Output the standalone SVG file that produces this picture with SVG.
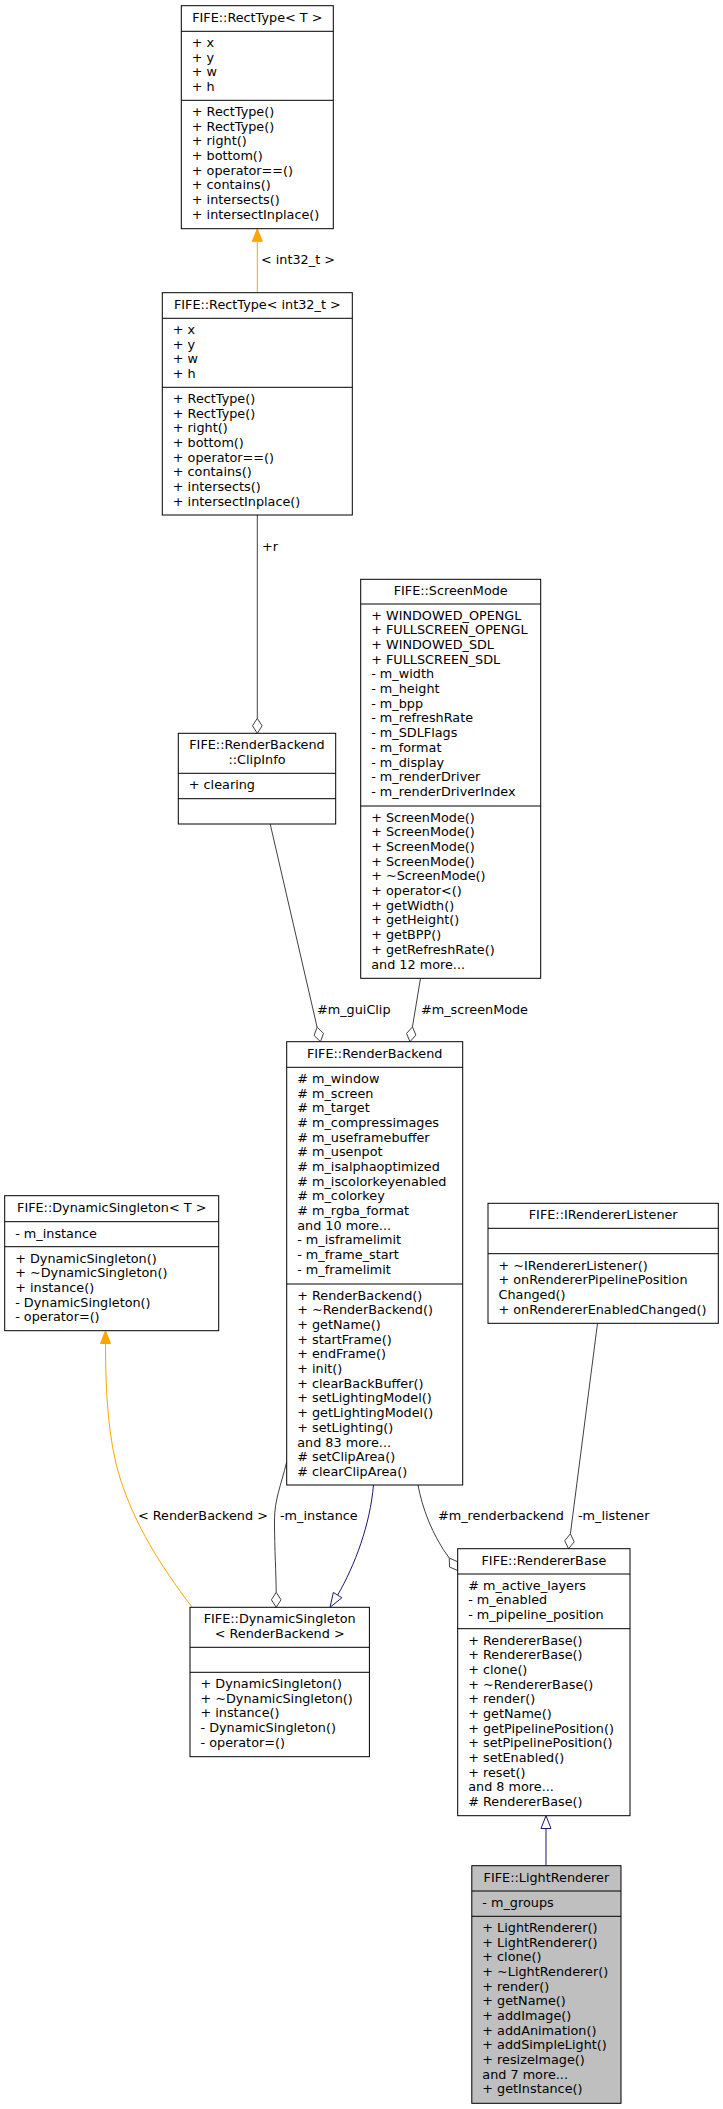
<svg xmlns="http://www.w3.org/2000/svg" width="723" height="2109" viewBox="0 0 723 2109">
<defs>
<style>
text{font-family:"DejaVu Sans","Liberation Sans",sans-serif;font-size:12.8px;fill:#000}
.c{text-anchor:middle}
.node rect{fill:#fff;stroke:#000;stroke-width:1}
.node line{stroke:#000;stroke-width:1}
#n10 rect{fill:#bfbfbf}
.use{fill:none;stroke:#404040;stroke-width:1}
.dia{fill:#fff;stroke:#404040;stroke-width:1}
.tpl{fill:none;stroke:#ffa500;stroke-width:1}
.tplh{fill:#ffa500;stroke:#ffa500;stroke-width:1}
.inh{fill:none;stroke:#191970;stroke-width:1}
.inhh{fill:#fff;stroke:#191970;stroke-width:1}
</style>
</defs>
<rect width="723" height="2109" fill="#fff"/>

<g id="connectors">
<!-- RectType<int32_t> -> RectType<T> -->
<line class="tpl" x1="257.3" y1="292.7" x2="257.3" y2="241"/>
<polygon class="tplh" points="257.3,228.7 252.3,241.3 262.3,241.3"/>
<text x="261" y="263.5">&lt; int32_t &gt;</text>
<!-- +r -->
<line class="use" x1="257.3" y1="515" x2="257.3" y2="718.3"/>
<polygon class="dia" points="257.3,718.3 252.5,725.8 257.3,733.3 262.1,725.8"/>
<text x="262" y="551">+r</text>
<!-- #m_guiClip -->
<line class="use" x1="270.2" y1="824" x2="317.1" y2="1027.1"/>
<polygon class="dia" points="317.1,1027.1 323.5,1033.3 320.5,1041.7 314.1,1035.5"/>
<text x="317" y="1013.5">#m_guiClip</text>
<!-- #m_screenMode -->
<line class="use" x1="420.5" y1="978.3" x2="412.45" y2="1026.9"/>
<polygon class="dia" points="412.45,1026.9 415.9,1035.1 410,1041.7 406.5,1033.5"/>
<text x="421" y="1013.5">#m_screenMode</text>
<!-- -m_instance -->
<path class="use" d="M286.7,1462 C281,1485 274.5,1500 274.5,1520 C274.5,1550 276.2,1575 276.2,1592.3"/>
<polygon class="dia" points="276.2,1592.3 281,1599.8 276.2,1607.3 271.4,1599.8"/>
<text x="280" y="1520">-m_instance</text>
<!-- RenderBackend inherits DynamicSingleton<RenderBackend> -->
<path class="inh" d="M373.5,1485 C370,1525 355,1565 337.6,1595.1"/>
<polygon class="inhh" points="330,1607.3 341.85,1597.75 333.35,1592.45"/>
<!-- #m_renderbackend -->
<path class="use" d="M418,1485 C422,1507 432,1535 449.25,1558.1"/>
<polygon class="dia" points="449.25,1558.1 457.4,1561.6 457.7,1570.5 449.5,1567"/>
<text x="438" y="1520">#m_renderbackend</text>
<!-- -m_listener -->
<line class="use" x1="597.5" y1="1323.3" x2="570.4" y2="1533.8"/>
<polygon class="dia" points="570.4,1533.8 574.2,1541.9 568.5,1548.7 564.7,1540.7"/>
<text x="578" y="1520">-m_listener</text>
<!-- DynamicSingleton<RenderBackend> -> DynamicSingleton<T> -->
<path class="tpl" d="M191.7,1606.7 C160,1565 135,1525 120,1478 C108,1440 105.5,1390 105.5,1344"/>
<polygon class="tplh" points="105.5,1330.7 100.5,1343.5 110.5,1343.5"/>
<text x="138" y="1520">&lt; RenderBackend &gt;</text>
<!-- LightRenderer inherits RendererBase -->
<line class="inh" x1="546" y1="1865.7" x2="546" y2="1828.5"/>
<polygon class="inhh" points="546,1815.7 541,1828.5 551,1828.5"/>
</g>

<g id="n1" class="node">
<rect x="181.3" y="5.7" width="152" height="223"/>
<line x1="181.3" y1="31.3" x2="333.3" y2="31.3"/>
<line x1="181.3" y1="100.3" x2="333.3" y2="100.3"/>
<text class="c" x="257.3" y="21.5">FIFE::RectType&lt; T &gt;</text>
<text x="191.8" y="47.1"><tspan x="191.8">+ x</tspan><tspan x="191.8" dy="14.67">+ y</tspan><tspan x="191.8" dy="14.67">+ w</tspan><tspan x="191.8" dy="14.67">+ h</tspan></text>
<text x="191.8" y="116.1"><tspan x="191.8">+ RectType()</tspan><tspan x="191.8" dy="14.67">+ RectType()</tspan><tspan x="191.8" dy="14.67">+ right()</tspan><tspan x="191.8" dy="14.67">+ bottom()</tspan><tspan x="191.8" dy="14.67">+ operator==()</tspan><tspan x="191.8" dy="14.67">+ contains()</tspan><tspan x="191.8" dy="14.67">+ intersects()</tspan><tspan x="191.8" dy="14.67">+ intersectInplace()</tspan></text>
</g>

<g id="n2" class="node">
<rect x="162.3" y="292.7" width="190" height="222.3"/>
<line x1="162.3" y1="318.3" x2="352.3" y2="318.3"/>
<line x1="162.3" y1="387.3" x2="352.3" y2="387.3"/>
<text class="c" x="257.3" y="308.5">FIFE::RectType&lt; int32_t &gt;</text>
<text x="172.8" y="334.1"><tspan x="172.8">+ x</tspan><tspan x="172.8" dy="14.67">+ y</tspan><tspan x="172.8" dy="14.67">+ w</tspan><tspan x="172.8" dy="14.67">+ h</tspan></text>
<text x="172.8" y="403.1"><tspan x="172.8">+ RectType()</tspan><tspan x="172.8" dy="14.67">+ RectType()</tspan><tspan x="172.8" dy="14.67">+ right()</tspan><tspan x="172.8" dy="14.67">+ bottom()</tspan><tspan x="172.8" dy="14.67">+ operator==()</tspan><tspan x="172.8" dy="14.67">+ contains()</tspan><tspan x="172.8" dy="14.67">+ intersects()</tspan><tspan x="172.8" dy="14.67">+ intersectInplace()</tspan></text>
</g>

<g id="n3" class="node">
<rect x="178.3" y="733.3" width="157.4" height="90.7"/>
<line x1="178.3" y1="773.3" x2="335.7" y2="773.3"/>
<line x1="178.3" y1="798.7" x2="335.7" y2="798.7"/>
<text class="c" x="257" y="749.1"><tspan x="257">FIFE::RenderBackend</tspan><tspan x="257" dy="14.67">::ClipInfo</tspan></text>
<text x="188.8" y="789.1">+ clearing</text>
</g>

<g id="n4" class="node">
<rect x="360.7" y="579.3" width="180" height="399"/>
<line x1="360.7" y1="604" x2="540.7" y2="604"/>
<line x1="360.7" y1="806" x2="540.7" y2="806"/>
<text class="c" x="450.7" y="595.1">FIFE::ScreenMode</text>
<text x="371.2" y="619.8"><tspan x="371.2">+ WINDOWED_OPENGL</tspan><tspan x="371.2" dy="14.67">+ FULLSCREEN_OPENGL</tspan><tspan x="371.2" dy="14.67">+ WINDOWED_SDL</tspan><tspan x="371.2" dy="14.67">+ FULLSCREEN_SDL</tspan><tspan x="371.2" dy="14.67">- m_width</tspan><tspan x="371.2" dy="14.67">- m_height</tspan><tspan x="371.2" dy="14.67">- m_bpp</tspan><tspan x="371.2" dy="14.67">- m_refreshRate</tspan><tspan x="371.2" dy="14.67">- m_SDLFlags</tspan><tspan x="371.2" dy="14.67">- m_format</tspan><tspan x="371.2" dy="14.67">- m_display</tspan><tspan x="371.2" dy="14.67">- m_renderDriver</tspan><tspan x="371.2" dy="14.67">- m_renderDriverIndex</tspan></text>
<text x="371.2" y="821.8"><tspan x="371.2">+ ScreenMode()</tspan><tspan x="371.2" dy="14.67">+ ScreenMode()</tspan><tspan x="371.2" dy="14.67">+ ScreenMode()</tspan><tspan x="371.2" dy="14.67">+ ScreenMode()</tspan><tspan x="371.2" dy="14.67">+ ~ScreenMode()</tspan><tspan x="371.2" dy="14.67">+ operator&lt;()</tspan><tspan x="371.2" dy="14.67">+ getWidth()</tspan><tspan x="371.2" dy="14.67">+ getHeight()</tspan><tspan x="371.2" dy="14.67">+ getBPP()</tspan><tspan x="371.2" dy="14.67">+ getRefreshRate()</tspan><tspan x="371.2" dy="14.67">and 12 more...</tspan></text>
</g>

<g id="n5" class="node">
<rect x="286.7" y="1041.7" width="176" height="443.3"/>
<line x1="286.7" y1="1067.3" x2="462.7" y2="1067.3"/>
<line x1="286.7" y1="1284" x2="462.7" y2="1284"/>
<text class="c" x="374.7" y="1057.5">FIFE::RenderBackend</text>
<text x="297.2" y="1083.1"><tspan x="297.2"># m_window</tspan><tspan x="297.2" dy="14.67"># m_screen</tspan><tspan x="297.2" dy="14.67"># m_target</tspan><tspan x="297.2" dy="14.67"># m_compressimages</tspan><tspan x="297.2" dy="14.67"># m_useframebuffer</tspan><tspan x="297.2" dy="14.67"># m_usenpot</tspan><tspan x="297.2" dy="14.67"># m_isalphaoptimized</tspan><tspan x="297.2" dy="14.67"># m_iscolorkeyenabled</tspan><tspan x="297.2" dy="14.67"># m_colorkey</tspan><tspan x="297.2" dy="14.67"># m_rgba_format</tspan><tspan x="297.2" dy="14.67">and 10 more...</tspan><tspan x="297.2" dy="14.67">- m_isframelimit</tspan><tspan x="297.2" dy="14.67">- m_frame_start</tspan><tspan x="297.2" dy="14.67">- m_framelimit</tspan></text>
<text x="297.2" y="1299.8"><tspan x="297.2">+ RenderBackend()</tspan><tspan x="297.2" dy="14.67">+ ~RenderBackend()</tspan><tspan x="297.2" dy="14.67">+ getName()</tspan><tspan x="297.2" dy="14.67">+ startFrame()</tspan><tspan x="297.2" dy="14.67">+ endFrame()</tspan><tspan x="297.2" dy="14.67">+ init()</tspan><tspan x="297.2" dy="14.67">+ clearBackBuffer()</tspan><tspan x="297.2" dy="14.67">+ setLightingModel()</tspan><tspan x="297.2" dy="14.67">+ getLightingModel()</tspan><tspan x="297.2" dy="14.67">+ setLighting()</tspan><tspan x="297.2" dy="14.67">and 83 more...</tspan><tspan x="297.2" dy="14.67"># setClipArea()</tspan><tspan x="297.2" dy="14.67"># clearClipArea()</tspan></text>
</g>

<g id="n6" class="node">
<rect x="4.7" y="1195.7" width="214" height="135"/>
<line x1="4.7" y1="1221.7" x2="218.7" y2="1221.7"/>
<line x1="4.7" y1="1246.7" x2="218.7" y2="1246.7"/>
<text class="c" x="111.7" y="1211.5">FIFE::DynamicSingleton&lt; T &gt;</text>
<text x="15.2" y="1237.5">- m_instance</text>
<text x="15.2" y="1262.5"><tspan x="15.2">+ DynamicSingleton()</tspan><tspan x="15.2" dy="14.67">+ ~DynamicSingleton()</tspan><tspan x="15.2" dy="14.67">+ instance()</tspan><tspan x="15.2" dy="14.67">- DynamicSingleton()</tspan><tspan x="15.2" dy="14.67">- operator=()</tspan></text>
</g>

<g id="n7" class="node">
<rect x="488" y="1203.3" width="230.3" height="120"/>
<line x1="488" y1="1228.3" x2="718.3" y2="1228.3"/>
<line x1="488" y1="1253.7" x2="718.3" y2="1253.7"/>
<text class="c" x="603.2" y="1219.1">FIFE::IRendererListener</text>
<text x="498.5" y="1269.5"><tspan x="498.5">+ ~IRendererListener()</tspan><tspan x="498.5" dy="14.67">+ onRendererPipelinePosition</tspan><tspan x="498.5" dy="14.67">Changed()</tspan><tspan x="498.5" dy="14.67">+ onRendererEnabledChanged()</tspan></text>
</g>

<g id="n8" class="node">
<rect x="190" y="1607.3" width="179.4" height="149.4"/>
<line x1="190" y1="1647.3" x2="369.4" y2="1647.3"/>
<line x1="190" y1="1672.3" x2="369.4" y2="1672.3"/>
<text class="c" x="279.7" y="1623.1"><tspan x="279.7">FIFE::DynamicSingleton</tspan><tspan x="279.7" dy="14.67">&lt; RenderBackend &gt;</tspan></text>
<text x="200.5" y="1688.1"><tspan x="200.5">+ DynamicSingleton()</tspan><tspan x="200.5" dy="14.67">+ ~DynamicSingleton()</tspan><tspan x="200.5" dy="14.67">+ instance()</tspan><tspan x="200.5" dy="14.67">- DynamicSingleton()</tspan><tspan x="200.5" dy="14.67">- operator=()</tspan></text>
</g>

<g id="n9" class="node">
<rect x="457.7" y="1548.7" width="172.3" height="267"/>
<line x1="457.7" y1="1574" x2="630" y2="1574"/>
<line x1="457.7" y1="1628.7" x2="630" y2="1628.7"/>
<text class="c" x="543.9" y="1564.5">FIFE::RendererBase</text>
<text x="468.2" y="1589.8"><tspan x="468.2"># m_active_layers</tspan><tspan x="468.2" dy="14.67">- m_enabled</tspan><tspan x="468.2" dy="14.67">- m_pipeline_position</tspan></text>
<text x="468.2" y="1644.5"><tspan x="468.2">+ RendererBase()</tspan><tspan x="468.2" dy="14.67">+ RendererBase()</tspan><tspan x="468.2" dy="14.67">+ clone()</tspan><tspan x="468.2" dy="14.67">+ ~RendererBase()</tspan><tspan x="468.2" dy="14.67">+ render()</tspan><tspan x="468.2" dy="14.67">+ getName()</tspan><tspan x="468.2" dy="14.67">+ getPipelinePosition()</tspan><tspan x="468.2" dy="14.67">+ setPipelinePosition()</tspan><tspan x="468.2" dy="14.67">+ setEnabled()</tspan><tspan x="468.2" dy="14.67">+ reset()</tspan><tspan x="468.2" dy="14.67">and 8 more...</tspan><tspan x="468.2" dy="14.67"># RendererBase()</tspan></text>
</g>

<g id="n10" class="node">
<rect x="471.8" y="1865.7" width="149.2" height="237.6"/>
<line x1="471.8" y1="1891" x2="621" y2="1891"/>
<line x1="471.8" y1="1916.3" x2="621" y2="1916.3"/>
<text class="c" x="546.4" y="1881.5">FIFE::LightRenderer</text>
<text x="482.3" y="1906.8">- m_groups</text>
<text x="482.3" y="1932.1"><tspan x="482.3">+ LightRenderer()</tspan><tspan x="482.3" dy="14.67">+ LightRenderer()</tspan><tspan x="482.3" dy="14.67">+ clone()</tspan><tspan x="482.3" dy="14.67">+ ~LightRenderer()</tspan><tspan x="482.3" dy="14.67">+ render()</tspan><tspan x="482.3" dy="14.67">+ getName()</tspan><tspan x="482.3" dy="14.67">+ addImage()</tspan><tspan x="482.3" dy="14.67">+ addAnimation()</tspan><tspan x="482.3" dy="14.67">+ addSimpleLight()</tspan><tspan x="482.3" dy="14.67">+ resizeImage()</tspan><tspan x="482.3" dy="14.67">and 7 more...</tspan><tspan x="482.3" dy="14.67">+ getInstance()</tspan></text>
</g>
</svg>
